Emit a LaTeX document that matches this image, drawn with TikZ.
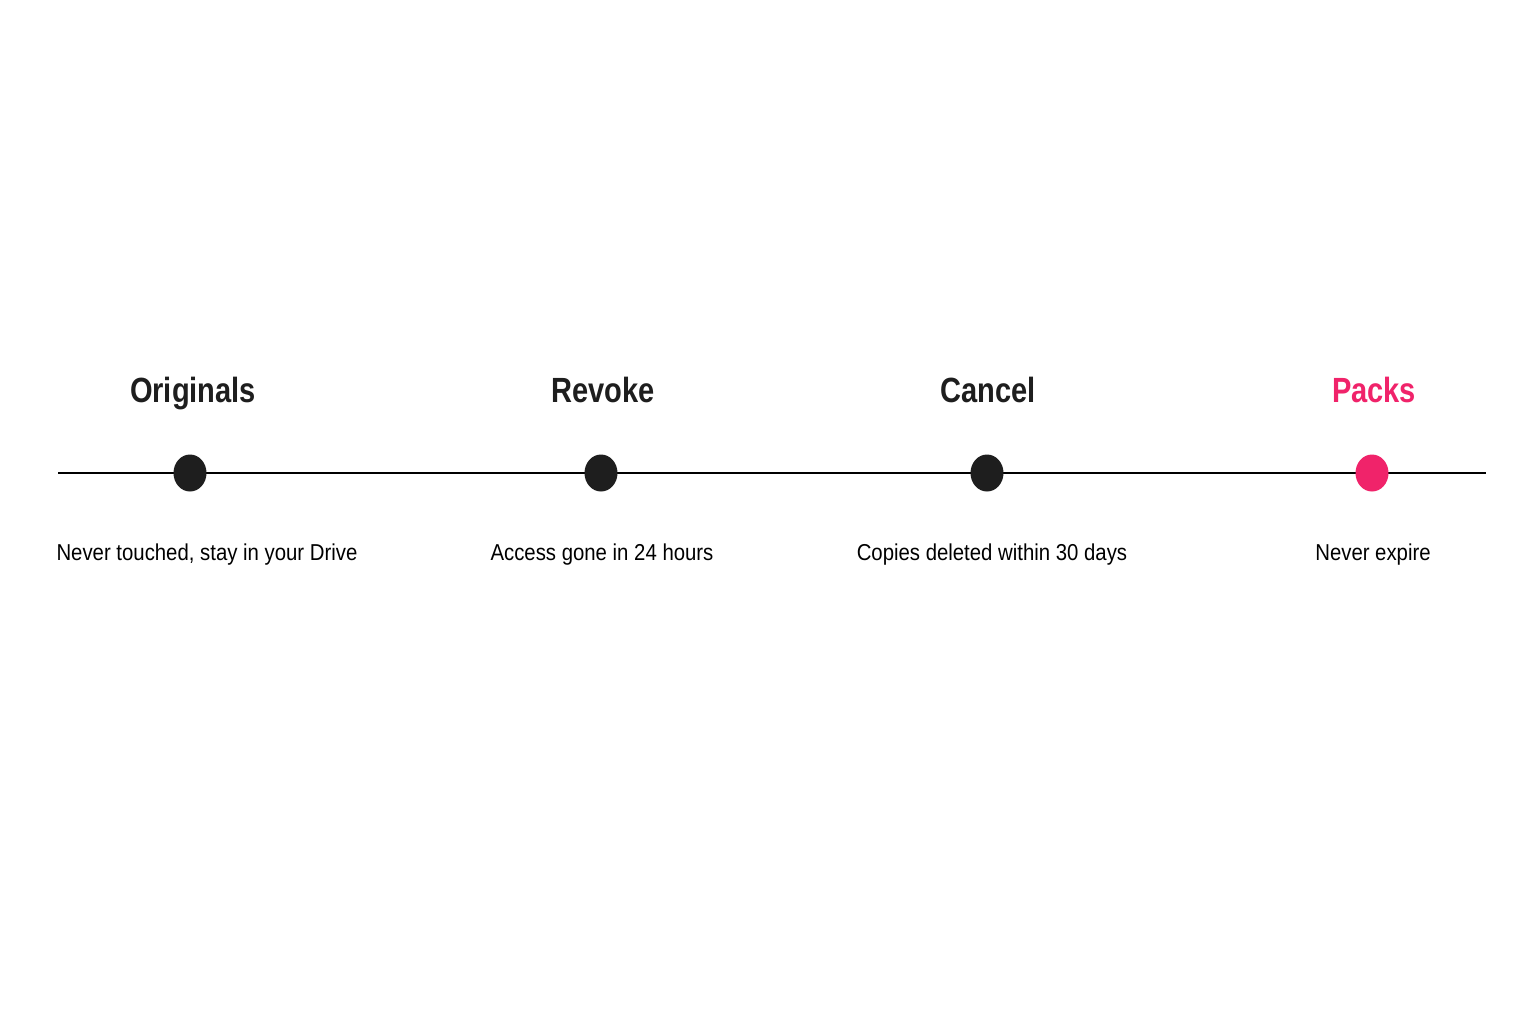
\documentclass[tikz,border=0pt]{standalone}
\usetikzlibrary{shapes.geometric}
\usepackage{fontspec}
\setmainfont{Liberation Sans}
\newfontfamily\titlefont[FakeStretch=0.83]{Liberation Sans}
\newfontfamily\subfont[FakeStretch=0.885]{Liberation Sans}
\definecolor{pinkacc}{HTML}{F0236A}
\definecolor{ink}{HTML}{1E1E1E}
\begin{document}
\begin{tikzpicture}[x=0.5pt,y=-0.5pt,
  ttl/.style={font=\titlefont\bfseries\fontsize{17.5}{20}\selectfont, text=ink, inner sep=0pt, anchor=base},
  sub/.style={font=\subfont\fontsize{11.5}{14}\selectfont, text=black, inner sep=0pt, anchor=base},
  dot/.style={ellipse, fill=ink, minimum width=16.5pt, minimum height=18.5pt, inner sep=0pt},
  track/.style={line width=1pt, draw=black}]
\useasboundingbox[fill=white] (0,0) rectangle (1536,1024);
\coordinate (L) at (58,473);
\coordinate (R) at (1486,473);
\draw[track] (L) -- (R);
\node[ttl] (t1) at (193,402) {Originals};
\node[ttl] (t2) at (603,402) {Revoke};
\node[ttl] (t3) at (988,402) {Cancel};
\node[ttl, text=pinkacc] (t4) at (1374,402) {Packs};
\node[dot] (d1) at (190,473) {};
\node[dot] (d2) at (601,473) {};
\node[dot] (d3) at (987,473) {};
\node[dot, fill=pinkacc] (d4) at (1372,473) {};
\node[sub] (s1) at (207,560) {Never touched, stay in your Drive};
\node[sub] (s2) at (602,560) {Access gone in 24 hours};
\node[sub] (s3) at (992,560) {Copies deleted within 30 days};
\node[sub] (s4) at (1373,560) {Never expire};
\end{tikzpicture}
\end{document}
